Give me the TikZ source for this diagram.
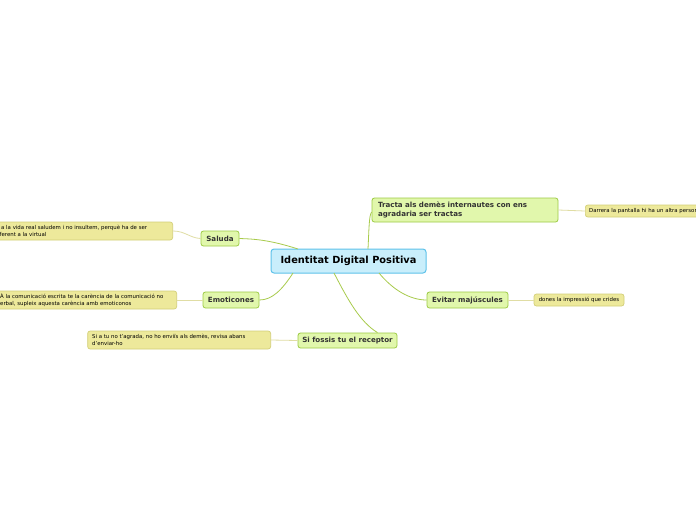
\documentclass[tikz,border=0pt]{standalone}
\usepackage{fontspec}
\setmainfont{DejaVu Sans}
\definecolor{cfill}{HTML}{C9EEFB}
\definecolor{cdraw}{HTML}{5EC2EA}
\definecolor{bfill}{HTML}{E1F7AC}
\definecolor{bdraw}{HTML}{9DCB45}
\definecolor{lfill}{HTML}{EDE99B}
\definecolor{ldraw}{HTML}{D3CF78}
\definecolor{bline}{HTML}{A8CB4C}
\definecolor{lline}{HTML}{E0DDA4}
\definecolor{txt}{HTML}{333333}
\tikzset{
  central/.style={draw=cdraw, fill=cfill, line width=1pt, rounded corners=3pt, font=\bfseries\fontsize{9.8}{11}\selectfont, text=black, inner sep=0pt},
  branch/.style={draw=bdraw, fill=bfill, line width=0.8pt, rounded corners=2.5pt, font=\bfseries\fontsize{7.1}{8.4}\selectfont, text=txt, inner sep=0pt},
  leaf/.style={draw=ldraw, fill=lfill, line width=0.7pt, rounded corners=2.5pt, inner sep=0pt},
  leaftext/.style={font=\fontsize{5.4}{6.6}\selectfont, text=black, align=left, inner sep=0pt},
  bconn/.style={draw=bline, line width=0.8pt},
  lconn/.style={draw=lline, line width=0.8pt},
}
\begin{document}
\begin{tikzpicture}[x=1pt,y=-1pt]
\useasboundingbox (0,0) rectangle (696,520);
\fill[white] (0,0) rectangle (696,520);
\begin{scope}
\clip (0,0) rectangle (696,520);
% connector start points on the central node
\coordinate (c1) at (298,249);
\coordinate (c2) at (293,273);
\coordinate (c3) at (334,273);
\coordinate (c4) at (368,249);
\coordinate (c5) at (379,273);
% central
\node[central, minimum width=155pt, minimum height=24pt] (ctr) at (348.5,261) {Identitat Digital Positiva};
% branches
\node[branch, minimum width=38pt, minimum height=15pt] (sal) at (220,238.5) {Saluda};
\node[branch, minimum width=56pt, minimum height=16pt] (emo) at (231,300) {Emoticones};
\node[branch, minimum width=99pt, minimum height=15pt] (sif) at (347.5,340.5) {Si fossis tu el receptor};
\node[branch, minimum width=186pt, minimum height=24pt, text width=174pt, align=left] (tra) at (465,210) {Tracta als demès internautes con ens\\agradaria ser tractas};
\node[branch, minimum width=81pt, minimum height=16pt] (evi) at (467.5,300) {Evitar majúscules};
% leaves
\node[leaf, minimum width=193pt, minimum height=18pt, anchor=east] (lsal) at (173,231) {};
\node[leaftext, anchor=west] (tsal) at (1,231) {a la vida real saludem i no insultem, perquè ha de ser\\\hspace*{-1.5pt}ferent a la virtual};
\node[leaf, minimum width=187pt, minimum height=18pt, anchor=east] (lemo) at (177,300) {};
\node[leaftext, anchor=west] (temo) at (0,300) {À la comunicació escrita te la carència de la comunicació no\\erbal, supleix aquesta carència amb emoticonos};
\node[leaf, minimum width=183pt, minimum height=18pt, anchor=east] (lsif) at (271,340) {};
\node[leaftext, anchor=west] (tsif) at (92,340) {Si a tu no t'agrada, no ho enviïs als demès, revisa abans\\d'enviar-ho};
\node[leaf, minimum width=130pt, minimum height=12pt, anchor=west] (ltra) at (585,211) {};
\node[leaftext, anchor=west] (ttra) at (589,211) {Darrera la pantalla hi ha un altra persona};
\node[leaf, minimum width=90pt, minimum height=12pt] (levi) at (579,300) {};
\node[leaftext] (tevi) at (levi) {dones la impressió que crides};
% branch connectors
\path[bconn] (c1) .. controls (270,240) and (255,239) .. (sal.east);
\path[bconn] (c2) .. controls (282,290) and (272,300) .. (emo.east);
\path[bconn] (c3) .. controls (348,300) and (360,322) .. ([xshift=30pt]sif.north);
\path[bconn] (c4) .. controls (369,230) and (369,215) .. ([yshift=-2pt]tra.west);
\path[bconn] (c5) .. controls (393,290) and (410,300) .. (evi.west);
% leaf connectors
\path[lconn] (sal.west) .. controls (190,238) and (185,231) .. (lsal.east);
\path[lconn] (emo.west) -- (lemo.east);
\path[lconn] (sif.west) -- (lsif.east);
\path[lconn] (tra.east) -- (ltra.west);
\path[lconn] (evi.east) -- (levi.west);
\end{scope}
\end{tikzpicture}
\end{document}
